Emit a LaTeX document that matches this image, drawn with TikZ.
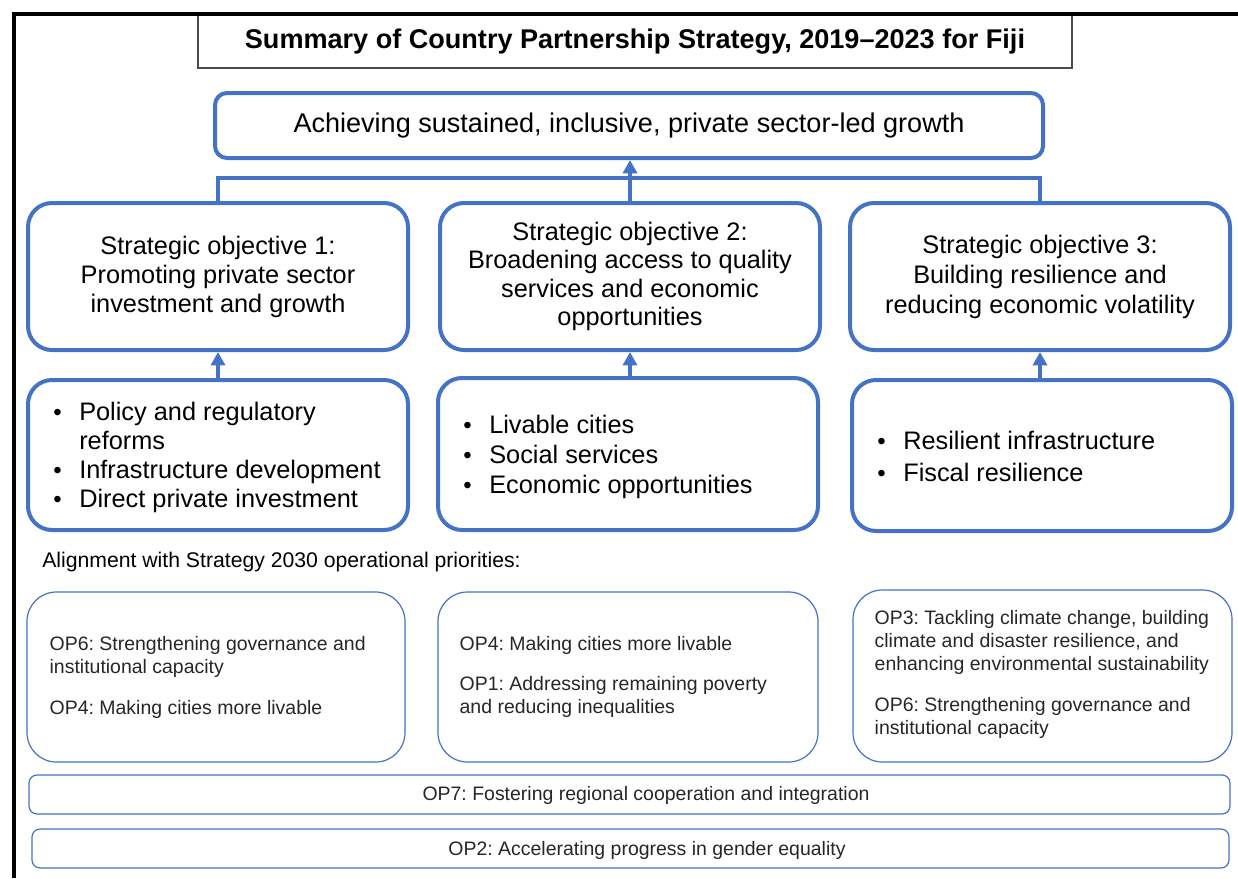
\documentclass[tikz,border=0pt]{standalone}
\usepackage{fontspec}
\setmainfont{Liberation Sans}
\frenchspacing
\usetikzlibrary{arrows.meta,positioning}
\definecolor{adbblue}{HTML}{4472C4}
\definecolor{optext}{HTML}{262626}
\newcommand{\bul}{\makebox[19.5pt][l]{\fontsize{18}{18}\selectfont\textbullet}}
\newcommand{\nobul}{\hspace*{19.5pt}}
\tikzset{
  sz/.style 2 args={minimum width=#1*0.75pt, minimum height=#2*0.75pt},
  titlebox/.style={draw=black!70, line width=0.8pt, inner sep=0pt, font=\bfseries\fontsize{20.3}{24}\selectfont},
  goalbox/.style={draw=adbblue, line width=3pt, rounded corners=9pt, inner sep=0pt, font=\fontsize{20.3}{24}\selectfont},
  objbox/.style={draw=adbblue, line width=3pt, rounded corners=18pt, inner sep=0pt, align=center, font=\fontsize{19}{21.75}\selectfont},
  listbox/.style={draw=adbblue, line width=3pt, rounded corners=18pt, inner sep=0pt},
  listtxt/.style={anchor=west, inner sep=0pt, align=left},
  opbox/.style={draw=adbblue, line width=0.9pt, rounded corners=22pt, inner sep=0pt},
  optxt/.style={anchor=west, inner sep=0pt, align=left, text=optext, font=\fontsize{14.6}{17.25}\selectfont},
  barbox/.style={draw=adbblue, line width=0.9pt, rounded corners=6pt, inner sep=0pt},
  bartxt/.style={inner sep=0pt, text=optext, font=\fontsize{14.6}{17.25}\selectfont},
  arr/.style={-{Triangle[length=10pt,width=10.5pt]}, draw=adbblue, line width=3pt},
  link/.style={draw=adbblue, line width=3pt},
}
\begin{document}
\begin{tikzpicture}[x=0.75pt, y=-0.75pt]
  \useasboundingbox (0,0) rectangle (1238,878);
  % title and goal
  \node[titlebox, sz={874}{53}] (title) at (635,41.5) {\raisebox{-1.5pt}{Summary of Country Partnership Strategy, 2019–2023 for Fiji}};
  \node[goalbox, sz={828}{65}] (goal) at (629,125.5) {\raisebox{-2pt}{Achieving sustained, inclusive, private sector-led growth}};
  % strategic objectives
  \node[objbox, sz={380}{147}] (so1) at (218,276.5) {Strategic objective 1:\\Promoting private sector\\investment and growth};
  \node[objbox, sz={380}{147}, font=\fontsize{19}{21.4}\selectfont] (so2) at (630,276.5) {Strategic objective 2:\\Broadening access to quality\\services and economic\\opportunities};
  \node[objbox, sz={380}{147}, font=\fontsize{19}{22.5}\selectfont] (so3) at (1040,276.5) {Strategic objective 3:\\Building resilience and\\reducing economic volatility};
  % outputs
  \node[listbox, sz={380}{150}] (lst1) at (218,455) {};
  \node[listbox, sz={380}{152}] (lst2) at (628,454) {};
  \node[listbox, sz={380}{151}] (lst3) at (1042,455.5) {};
  \node[listtxt, font=\fontsize{19}{21.75}\selectfont] (lst1txt) at ([xshift=20.25pt, yshift=-2pt]lst1.west)
    {\bul Policy and regulatory\\\nobul reforms\\\bul Infrastructure development\\\bul Direct private investment};
  \node[listtxt, font=\fontsize{19}{22.5}\selectfont] (lst2txt) at ([xshift=20.25pt, yshift=-2pt]lst2.west)
    {\bul Livable cities\\\bul Social services\\\bul Economic opportunities};
  \node[listtxt, font=\fontsize{19}{24}\selectfont] (lst3txt) at ([xshift=20.25pt, yshift=-1pt]lst3.west)
    {\bul Resilient infrastructure\\\bul Fiscal resilience};
  % connectors
  \draw[link] (so1.north) -- ++(0,-23) -| (so3.north);
  \draw[arr] (so2.north) -- (so2.north |- goal.south);
  \draw[arr] (lst1.north -| so1.south) -- (so1.south);
  \draw[arr] (lst2.north -| so2.south) -- (so2.south);
  \draw[arr] (lst3.north -| so3.south) -- (so3.south);
  % operational priorities
  \node[anchor=west, inner sep=0pt, font=\fontsize{15.9}{18}\selectfont] (align) at (42,562) {Alignment with Strategy 2030 operational priorities:};
  \node[opbox, sz={378}{170}] (op1) at (216,677) {};
  \node[opbox, sz={380}{170}] (op2) at (628,677) {};
  \node[opbox, sz={379}{172}] (op3) at (1042.5,676) {};
  \node[optxt] (op1txt) at ([xshift=17.25pt]op1.west)
    {OP6: Strengthening governance and\\institutional capacity\\[13.5pt]OP4: Making cities more livable};
  \node[optxt] (op2txt) at ([xshift=16.5pt]op2.west)
    {OP4: Making cities more livable\\[12.75pt]OP1: Addressing remaining poverty\\and reducing inequalities};
  \node[optxt] (op3txt) at ([xshift=16.5pt, yshift=1pt]op3.west)
    {OP3: Tackling climate change, building\\climate and disaster resilience, and\\enhancing environmental sustainability\\[13.5pt]OP6: Strengthening governance and\\institutional capacity};
  \node[barbox, sz={1201}{39}] (bar7) at (629.5,794.5) {};
  \node[barbox, sz={1197}{39}] (bar2) at (630.5,848.5) {};
  \node[bartxt] (op7) at (646,795) {OP7: Fostering regional cooperation and integration};
  \node[bartxt] (op2) at (647,850) {OP2: Accelerating progress in gender equality};
  % frame
  \draw[line width=3pt] (1238,14) -- (14,14) -- (14,878);
\end{tikzpicture}
\end{document}
